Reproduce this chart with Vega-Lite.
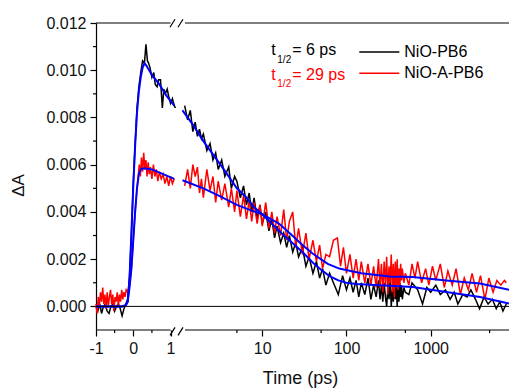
{
  "$schema": "https://vega.github.io/schema/vega-lite/v6.json",
  "autosize": {"type": "none"},
  "padding": {"left": 96, "top": 23, "right": 0, "bottom": 58},
  "width": 413,
  "height": 307,
  "config": {
    "view": {"stroke": null},
    "font": "Liberation Sans",
    "axis": {"domainColor": "#000", "tickColor": "#000", "labelColor": "#111", "titleColor": "#111", "labelFontSize": 16, "titleFontSize": 18, "titleFontWeight": "normal", "grid": false, "domainWidth": 1.2, "tickWidth": 1.2, "tickSize": 6, "labelFlush": false}
  },
  "datasets": {
    "one": [{}],
    "bl": [
      {"t": -1, "v": 0}, {"t": -0.95, "v": -0.0002}, {"t": -0.9, "v": 0.0001}, {"t": -0.85, "v": -0.0003}, {"t": -0.8, "v": 0}, {"t": -0.75, "v": 0.0001}, {"t": -0.7, "v": -0.0002}, {"t": -0.65, "v": -0.0003}, {"t": -0.6, "v": 0}, {"t": -0.55, "v": 0.0001}, {"t": -0.5, "v": -0.0002}, {"t": -0.45, "v": 0}, {"t": -0.4, "v": 0.0001}, {"t": -0.35, "v": -0.0001}, {"t": -0.3, "v": -0.0004}, {"t": -0.25, "v": -0.0001}, {"t": -0.2, "v": 0.0001}, {"t": -0.15, "v": 0.0003}, {"t": -0.1, "v": 0.0013}, {"t": -0.05, "v": 0.003}, {"t": 0, "v": 0.0052}, {"t": 0.05, "v": 0.0069}, {"t": 0.1, "v": 0.0084}, {"t": 0.15, "v": 0.0093}, {"t": 0.2, "v": 0.0099}, {"t": 0.25, "v": 0.0104}, {"t": 0.3, "v": 0.0103}, {"t": 0.34, "v": 0.0111}, {"t": 0.38, "v": 0.0104}, {"t": 0.41, "v": 0.0103}, {"t": 0.45, "v": 0.0101}, {"t": 0.5, "v": 0.0097}, {"t": 0.55, "v": 0.0099}, {"t": 0.59, "v": 0.0094}, {"t": 0.64, "v": 0.0093}, {"t": 0.68, "v": 0.0096}, {"t": 0.73, "v": 0.0096}, {"t": 0.78, "v": 0.0084}, {"t": 0.82, "v": 0.0092}, {"t": 0.86, "v": 0.009}, {"t": 0.91, "v": 0.0092}, {"t": 0.95, "v": 0.0089}, {"t": 1.0, "v": 0.0086}, {"t": 1.05, "v": 0.0088}, {"t": 1.1, "v": 0.0085}, {"t": 1.13, "v": 0.0084}
    ],
    "rl": [
      {"t": -1, "v": 0.0001}, {"t": -0.97, "v": -0.0003}, {"t": -0.94, "v": 0.0004}, {"t": -0.91, "v": 0}, {"t": -0.88, "v": 0.0006}, {"t": -0.85, "v": 0.0002}, {"t": -0.82, "v": 0.0008}, {"t": -0.79, "v": 0.0001}, {"t": -0.76, "v": 0.0005}, {"t": -0.73, "v": -0.0001}, {"t": -0.7, "v": 0.0006}, {"t": -0.67, "v": 0}, {"t": -0.64, "v": 0.0004}, {"t": -0.61, "v": 0.0007}, {"t": -0.58, "v": 0.0001}, {"t": -0.55, "v": 0.0005}, {"t": -0.52, "v": -0.0002}, {"t": -0.49, "v": 0.0004}, {"t": -0.46, "v": 0.0002}, {"t": -0.43, "v": 0.0006}, {"t": -0.4, "v": 0}, {"t": -0.37, "v": 0.0005}, {"t": -0.34, "v": 0.0002}, {"t": -0.31, "v": 0.0007}, {"t": -0.28, "v": 0.0003}, {"t": -0.25, "v": 0.0006}, {"t": -0.22, "v": 0.0004}, {"t": -0.19, "v": 0.0007}, {"t": -0.15, "v": 0.0006}, {"t": -0.1, "v": 0.0009}, {"t": -0.05, "v": 0.0016}, {"t": 0, "v": 0.0028}, {"t": 0.05, "v": 0.004}, {"t": 0.1, "v": 0.005}, {"t": 0.13, "v": 0.0055}, {"t": 0.16, "v": 0.006}, {"t": 0.19, "v": 0.0055}, {"t": 0.22, "v": 0.0063}, {"t": 0.25, "v": 0.0057}, {"t": 0.28, "v": 0.0065}, {"t": 0.31, "v": 0.0058}, {"t": 0.34, "v": 0.0062}, {"t": 0.37, "v": 0.0055}, {"t": 0.4, "v": 0.0061}, {"t": 0.43, "v": 0.0056}, {"t": 0.46, "v": 0.0059}, {"t": 0.5, "v": 0.0054}, {"t": 0.54, "v": 0.006}, {"t": 0.58, "v": 0.0055}, {"t": 0.62, "v": 0.0058}, {"t": 0.66, "v": 0.0053}, {"t": 0.7, "v": 0.0057}, {"t": 0.75, "v": 0.0054}, {"t": 0.8, "v": 0.0056}, {"t": 0.85, "v": 0.0052}, {"t": 0.9, "v": 0.0055}, {"t": 0.95, "v": 0.0051}, {"t": 1.0, "v": 0.0055}, {"t": 1.05, "v": 0.0052}, {"t": 1.1, "v": 0.0054}
    ],
    "fl": [
      {"s": "b", "t": -1, "v": 0}, {"s": "b", "t": -0.3, "v": 0}, {"s": "b", "t": -0.2, "v": 0.00005}, {"s": "b", "t": -0.15, "v": 0.0002}, {"s": "b", "t": -0.1, "v": 0.0012}, {"s": "b", "t": -0.05, "v": 0.0031}, {"s": "b", "t": 0, "v": 0.0051}, {"s": "b", "t": 0.05, "v": 0.0068}, {"s": "b", "t": 0.1, "v": 0.0082}, {"s": "b", "t": 0.15, "v": 0.0091}, {"s": "b", "t": 0.2, "v": 0.0097}, {"s": "b", "t": 0.25, "v": 0.0101}, {"s": "b", "t": 0.3, "v": 0.0103}, {"s": "b", "t": 0.35, "v": 0.0102}, {"s": "b", "t": 0.5, "v": 0.0098}, {"s": "b", "t": 0.7, "v": 0.0094}, {"s": "b", "t": 0.9, "v": 0.0089}, {"s": "b", "t": 1.1, "v": 0.0085},
      {"s": "r", "t": -1, "v": 0}, {"s": "r", "t": -0.3, "v": 0}, {"s": "r", "t": -0.2, "v": 0.00005}, {"s": "r", "t": -0.15, "v": 0.0002}, {"s": "r", "t": -0.1, "v": 0.0008}, {"s": "r", "t": -0.05, "v": 0.0016}, {"s": "r", "t": 0, "v": 0.0028}, {"s": "r", "t": 0.05, "v": 0.004}, {"s": "r", "t": 0.1, "v": 0.005}, {"s": "r", "t": 0.15, "v": 0.0056}, {"s": "r", "t": 0.2, "v": 0.0058}, {"s": "r", "t": 0.28, "v": 0.00585}, {"s": "r", "t": 0.5, "v": 0.0058}, {"s": "r", "t": 0.8, "v": 0.0056}, {"s": "r", "t": 1.1, "v": 0.0054}
    ],
    "br": [
      {"t": 1.2, "v": 0.0085}, {"t": 1.3, "v": 0.0079}, {"t": 1.4, "v": 0.0083}, {"t": 1.5, "v": 0.0074}, {"t": 1.6, "v": 0.0078}, {"t": 1.7, "v": 0.0072}, {"t": 1.8, "v": 0.0075}, {"t": 1.9, "v": 0.0071}, {"t": 2.0, "v": 0.0073}, {"t": 2.2, "v": 0.0066}, {"t": 2.4, "v": 0.0069}, {"t": 2.6, "v": 0.0062}, {"t": 2.8, "v": 0.0065}, {"t": 3.0, "v": 0.0058}, {"t": 3.3, "v": 0.0062}, {"t": 3.6, "v": 0.0055}, {"t": 4.0, "v": 0.0059}, {"t": 4.3, "v": 0.005}, {"t": 4.7, "v": 0.0055}, {"t": 5.0, "v": 0.0053}, {"t": 5.5, "v": 0.0046}, {"t": 6.0, "v": 0.0051}, {"t": 6.5, "v": 0.0043}, {"t": 7.0, "v": 0.0048}, {"t": 7.5, "v": 0.004}, {"t": 8.0, "v": 0.0046}, {"t": 8.7, "v": 0.0037}, {"t": 9.4, "v": 0.0043}, {"t": 10, "v": 0.0035}, {"t": 11, "v": 0.004}, {"t": 12, "v": 0.0032}, {"t": 13, "v": 0.0037}, {"t": 14, "v": 0.0029}, {"t": 15, "v": 0.0034}, {"t": 16.5, "v": 0.0027}, {"t": 18, "v": 0.0031}, {"t": 19.5, "v": 0.0025}, {"t": 21, "v": 0.003}, {"t": 23, "v": 0.0023}, {"t": 25, "v": 0.0027}, {"t": 27, "v": 0.0021}, {"t": 30, "v": 0.0025}, {"t": 33, "v": 0.0017}, {"t": 36, "v": 0.0021}, {"t": 40, "v": 0.0014}, {"t": 44, "v": 0.0019}, {"t": 48, "v": 0.0012}, {"t": 52, "v": 0.0016}, {"t": 57, "v": 0.0009}, {"t": 63, "v": 0.0014}, {"t": 70, "v": 0.001}, {"t": 80, "v": 0.0005}, {"t": 90, "v": 0.0013}, {"t": 100, "v": 0.0007}, {"t": 110, "v": 0.0012}, {"t": 120, "v": 0.0006}, {"t": 130, "v": 0.0011}, {"t": 140, "v": 0.0004}, {"t": 150, "v": 0.001}, {"t": 165, "v": 0.0005}, {"t": 180, "v": 0.0012}, {"t": 195, "v": 0.0003}, {"t": 210, "v": 0.0009}, {"t": 225, "v": 0.0004}, {"t": 240, "v": 0.0011}, {"t": 250, "v": 0.0003}, {"t": 260, "v": 0.0009}, {"t": 270, "v": 0.0002}, {"t": 280, "v": 0.001}, {"t": 290, "v": 0.0004}, {"t": 300, "v": 0}, {"t": 310, "v": 0.0008}, {"t": 320, "v": 0.0003}, {"t": 330, "v": 0.0011}, {"t": 340, "v": 0}, {"t": 350, "v": 0.0007}, {"t": 360, "v": 0.0002}, {"t": 370, "v": 0.001}, {"t": 380, "v": 0.0003}, {"t": 390, "v": 0.0009}, {"t": 400, "v": 0}, {"t": 410, "v": 0.0008}, {"t": 420, "v": 0.0002}, {"t": 430, "v": 0.001}, {"t": 440, "v": 0.0004}, {"t": 450, "v": 0.0009}, {"t": 460, "v": 0.0003}, {"t": 480, "v": 0.0008}, {"t": 500, "v": 0.0006}, {"t": 550, "v": 0.0005}, {"t": 600, "v": 0.001}, {"t": 700, "v": 0.0007}, {"t": 800, "v": 0.0001}, {"t": 900, "v": 0.0008}, {"t": 1000, "v": 0.0006}, {"t": 1150, "v": 0.0009}, {"t": 1300, "v": 0.0005}, {"t": 1500, "v": 0.0007}, {"t": 1700, "v": 0.0003}, {"t": 1900, "v": 0.0006}, {"t": 2100, "v": 0.0001}, {"t": 2400, "v": 0.0005}, {"t": 2700, "v": 0.0004}, {"t": 3000, "v": 0.0007}, {"t": 3400, "v": 0.0003}, {"t": 3800, "v": -0.0001}, {"t": 4300, "v": 0.0004}, {"t": 4800, "v": 0.0001}, {"t": 5400, "v": 0.0003}, {"t": 6000, "v": -0.0001}, {"t": 6600, "v": 0.0002}, {"t": 7200, "v": -0.0002}, {"t": 7900, "v": 0.0001}
    ],
    "rr": [
      {"t": 1.2, "v": 0.0051}, {"t": 1.3, "v": 0.0058}, {"t": 1.4, "v": 0.005}, {"t": 1.5, "v": 0.006}, {"t": 1.6, "v": 0.0055}, {"t": 1.7, "v": 0.0059}, {"t": 1.8, "v": 0.0048}, {"t": 1.9, "v": 0.0054}, {"t": 2.0, "v": 0.0046}, {"t": 2.2, "v": 0.0058}, {"t": 2.4, "v": 0.0049}, {"t": 2.6, "v": 0.0055}, {"t": 2.8, "v": 0.0044}, {"t": 3.0, "v": 0.0053}, {"t": 3.3, "v": 0.0045}, {"t": 3.6, "v": 0.0052}, {"t": 4.0, "v": 0.0042}, {"t": 4.3, "v": 0.005}, {"t": 4.7, "v": 0.004}, {"t": 5.0, "v": 0.0049}, {"t": 5.5, "v": 0.0038}, {"t": 6.0, "v": 0.0047}, {"t": 6.5, "v": 0.0037}, {"t": 7.0, "v": 0.0045}, {"t": 7.5, "v": 0.0036}, {"t": 8.0, "v": 0.0044}, {"t": 8.7, "v": 0.0035}, {"t": 9.4, "v": 0.0043}, {"t": 10, "v": 0.0034}, {"t": 11, "v": 0.0044}, {"t": 12, "v": 0.0033}, {"t": 13, "v": 0.004}, {"t": 14, "v": 0.0031}, {"t": 15, "v": 0.0038}, {"t": 16.5, "v": 0.003}, {"t": 18, "v": 0.0041}, {"t": 19.5, "v": 0.0028}, {"t": 21, "v": 0.0036}, {"t": 23, "v": 0.004}, {"t": 25, "v": 0.0025}, {"t": 27, "v": 0.0033}, {"t": 30, "v": 0.0022}, {"t": 33, "v": 0.0031}, {"t": 36, "v": 0.002}, {"t": 40, "v": 0.0028}, {"t": 44, "v": 0.0019}, {"t": 48, "v": 0.0026}, {"t": 52, "v": 0.0016}, {"t": 57, "v": 0.0022}, {"t": 63, "v": 0.0021}, {"t": 70, "v": 0.0028}, {"t": 78, "v": 0.0029}, {"t": 85, "v": 0.0017}, {"t": 92, "v": 0.0025}, {"t": 100, "v": 0.0014}, {"t": 110, "v": 0.0022}, {"t": 120, "v": 0.0012}, {"t": 130, "v": 0.002}, {"t": 140, "v": 0.0011}, {"t": 150, "v": 0.0019}, {"t": 165, "v": 0.001}, {"t": 180, "v": 0.0018}, {"t": 195, "v": 0.0009}, {"t": 210, "v": 0.0017}, {"t": 225, "v": 0.0008}, {"t": 240, "v": 0.002}, {"t": 250, "v": 0.0008}, {"t": 260, "v": 0.0018}, {"t": 270, "v": 0.0006}, {"t": 280, "v": 0.0019}, {"t": 290, "v": 0.0009}, {"t": 300, "v": 0.0021}, {"t": 310, "v": 0.0005}, {"t": 320, "v": 0.0017}, {"t": 330, "v": 0.001}, {"t": 340, "v": 0.0022}, {"t": 350, "v": 0.0006}, {"t": 360, "v": 0.0018}, {"t": 370, "v": 0.0004}, {"t": 380, "v": 0.0019}, {"t": 390, "v": 0.0008}, {"t": 400, "v": 0.002}, {"t": 410, "v": 0.0007}, {"t": 420, "v": 0.0016}, {"t": 430, "v": 0.0009}, {"t": 440, "v": 0.0018}, {"t": 450, "v": 0.0011}, {"t": 460, "v": 0.0016}, {"t": 480, "v": 0.001}, {"t": 500, "v": 0.0014}, {"t": 550, "v": 0.0009}, {"t": 600, "v": 0.0018}, {"t": 650, "v": 0.0012}, {"t": 700, "v": 0.0019}, {"t": 780, "v": 0.001}, {"t": 870, "v": 0.0016}, {"t": 950, "v": 0.0009}, {"t": 1050, "v": 0.0017}, {"t": 1150, "v": 0.0011}, {"t": 1300, "v": 0.0018}, {"t": 1450, "v": 0.0008}, {"t": 1600, "v": 0.0015}, {"t": 1800, "v": 0.0009}, {"t": 2000, "v": 0.0016}, {"t": 2250, "v": 0.0005}, {"t": 2500, "v": 0.0012}, {"t": 2800, "v": 0.0007}, {"t": 3100, "v": 0.0014}, {"t": 3500, "v": 0.0006}, {"t": 3900, "v": 0.0013}, {"t": 4400, "v": 0.0003}, {"t": 4900, "v": 0.0012}, {"t": 5500, "v": 0.0006}, {"t": 6100, "v": 0.0011}, {"t": 6800, "v": 0.0009}, {"t": 7500, "v": 0.0011}, {"t": 7900, "v": 0.001}
    ],
    "fr": [
      {"s": "b", "t": 1.13, "v": 0.0083}, {"s": "b", "t": 1.5, "v": 0.0077}, {"s": "b", "t": 2, "v": 0.007}, {"s": "b", "t": 2.56, "v": 0.00647}, {"s": "b", "t": 3.5, "v": 0.0058}, {"s": "b", "t": 5, "v": 0.005}, {"s": "b", "t": 6.4, "v": 0.00463}, {"s": "b", "t": 8, "v": 0.0042}, {"s": "b", "t": 10, "v": 0.0039}, {"s": "b", "t": 13, "v": 0.0035}, {"s": "b", "t": 17, "v": 0.0031}, {"s": "b", "t": 21, "v": 0.0028}, {"s": "b", "t": 30, "v": 0.0023}, {"s": "b", "t": 40, "v": 0.00185}, {"s": "b", "t": 50, "v": 0.00155}, {"s": "b", "t": 63, "v": 0.00128}, {"s": "b", "t": 80, "v": 0.0011}, {"s": "b", "t": 100, "v": 0.001}, {"s": "b", "t": 130, "v": 0.00095}, {"s": "b", "t": 245, "v": 0.00089}, {"s": "b", "t": 610, "v": 0.00082}, {"s": "b", "t": 1530, "v": 0.00061}, {"s": "b", "t": 3850, "v": 0.0004}, {"s": "b", "t": 8500, "v": 0.00012},
      {"s": "r", "t": 1.13, "v": 0.00534}, {"s": "r", "t": 2, "v": 0.005}, {"s": "r", "t": 3, "v": 0.0047}, {"s": "r", "t": 5, "v": 0.0043}, {"s": "r", "t": 7, "v": 0.0041}, {"s": "r", "t": 10, "v": 0.0039}, {"s": "r", "t": 15.9, "v": 0.0035}, {"s": "r", "t": 22.7, "v": 0.003}, {"s": "r", "t": 30, "v": 0.0026}, {"s": "r", "t": 39.6, "v": 0.00224}, {"s": "r", "t": 60, "v": 0.0018}, {"s": "r", "t": 82, "v": 0.0016}, {"s": "r", "t": 150, "v": 0.0014}, {"s": "r", "t": 324, "v": 0.00127}, {"s": "r", "t": 610, "v": 0.00124}, {"s": "r", "t": 1530, "v": 0.0011}, {"s": "r", "t": 3850, "v": 0.00097}, {"s": "r", "t": 8500, "v": 0.0007}
    ]
  },
  "resolve": {"scale": {"x": "independent"}, "axis": {"x": "independent"}},
  "layer": [
    {
      "layer": [
        {
          "data": {"name": "bl"},
          "mark": {"type": "line", "color": "#000", "strokeWidth": 1.5},
          "encoding": {
            "x": {"field": "t", "type": "quantitative", "scale": {"domain": [-1, 1.2], "range": [0, 82], "nice": false, "zero": false},
              "axis": {"orient": "bottom", "values": [-1, 0, 1], "domain": false, "labelExpr": "'' + datum.value", "labelPadding": 4, "labelFlush": false, "title": null}},
            "y": {"field": "v", "type": "quantitative", "scale": {"domain": [-0.001, 0.012], "nice": false, "zero": false},
              "axis": {"orient": "left", "values": [0, 0.002, 0.004, 0.006, 0.008, 0.01, 0.012], "format": ".3f", "labelPadding": 4, "title": "ΔA", "titleFontSize": 17, "titleX": -78, "titleY": 162, "titleBaseline": "middle", "titleAlign": "center"}}
          }
        },
        {
          "data": {"name": "rl"},
          "mark": {"type": "line", "color": "#ff0000", "strokeWidth": 1.5},
          "encoding": {"x": {"field": "t", "type": "quantitative"}, "y": {"field": "v", "type": "quantitative"}}
        },
        {
          "data": {"name": "fl"},
          "mark": {"type": "line", "color": "#0000ff", "strokeWidth": 2},
          "encoding": {"x": {"field": "t", "type": "quantitative"}, "y": {"field": "v", "type": "quantitative"}, "detail": {"field": "s"}}
        },
        {
          "data": {"values": [{"m": 0.001}, {"m": 0.003}, {"m": 0.005}, {"m": 0.007}, {"m": 0.009}, {"m": 0.011}]},
          "mark": {"type": "rule", "color": "#000", "strokeWidth": 1.2, "clip": false},
          "encoding": {"y": {"field": "m", "type": "quantitative"}, "x": {"datum": -1.08}, "x2": {"datum": -1}}
        },
        {
          "data": {"values": [{"m": -0.5}, {"m": 0.5}]},
          "mark": {"type": "rule", "color": "#000", "strokeWidth": 1.2, "clip": false},
          "encoding": {"x": {"field": "m", "type": "quantitative"}, "y": {"datum": -0.001}, "y2": {"datum": -0.00113}}
        },
        {"data": {"name": "one"}, "mark": {"type": "rule", "color": "#000", "strokeWidth": 1.2}, "encoding": {"x": {"datum": -1}, "x2": {"datum": 1.0}, "y": {"datum": -0.001}}},
        {"data": {"name": "one"}, "mark": {"type": "rule", "color": "#000", "strokeWidth": 1.2}, "encoding": {"x": {"datum": -1}, "x2": {"datum": 1.0}, "y": {"datum": 0.012}}},
        {"data": {"name": "one"}, "mark": {"type": "rule", "color": "#000", "strokeWidth": 1}, "encoding": {"x": {"datum": -1}, "x2": {"datum": 1.2}, "y": {"datum": 0}}},
        {"data": {"name": "one"}, "mark": {"type": "rule", "color": "#000", "strokeWidth": 1.2, "clip": false}, "encoding": {"x": {"datum": 0.985}, "x2": {"datum": 1.12}, "y": {"datum": -0.00123}, "y2": {"datum": -0.00089}}},
        {"data": {"name": "one"}, "mark": {"type": "rule", "color": "#000", "strokeWidth": 1.2, "clip": false}, "encoding": {"x": {"datum": 1.2}, "x2": {"datum": 1.334}, "y": {"datum": -0.00123}, "y2": {"datum": -0.00089}}},
        {"data": {"name": "one"}, "mark": {"type": "rule", "color": "#000", "strokeWidth": 1.2, "clip": false}, "encoding": {"x": {"datum": 0.985}, "x2": {"datum": 1.12}, "y": {"datum": 0.01182}, "y2": {"datum": 0.01216}}},
        {"data": {"name": "one"}, "mark": {"type": "rule", "color": "#000", "strokeWidth": 1.2, "clip": false}, "encoding": {"x": {"datum": 1.2}, "x2": {"datum": 1.334}, "y": {"datum": 0.01182}, "y2": {"datum": 0.01216}}}
      ]
    },
    {
      "layer": [
        {
          "data": {"name": "br"},
          "mark": {"type": "line", "color": "#000", "strokeWidth": 1.5},
          "encoding": {
            "x": {"field": "t", "type": "quantitative", "scale": {"type": "log", "domain": [1, 8500], "range": [82, 413], "nice": false},
              "axis": {"orient": "bottom", "values": [10, 100, 1000], "domain": false, "labelExpr": "'' + datum.value", "labelPadding": 4, "labelFlush": false, "title": "Time (ps)", "titleX": 204, "titleY": 48, "titleBaseline": "middle"}},
            "y": {"field": "v", "type": "quantitative"}
          }
        },
        {
          "data": {"name": "rr"},
          "mark": {"type": "line", "color": "#ff0000", "strokeWidth": 1.5},
          "encoding": {"x": {"field": "t", "type": "quantitative"}, "y": {"field": "v", "type": "quantitative"}}
        },
        {
          "data": {"name": "fr"},
          "mark": {"type": "line", "color": "#0000ff", "strokeWidth": 2},
          "encoding": {"x": {"field": "t", "type": "quantitative"}, "y": {"field": "v", "type": "quantitative"}, "detail": {"field": "s"}}
        },
        {
          "data": {"values": [{"m": 5}, {"m": 50}, {"m": 500}, {"m": 5000}]},
          "mark": {"type": "rule", "color": "#000", "strokeWidth": 1.2, "clip": false},
          "encoding": {"x": {"field": "m", "type": "quantitative"}, "y": {"datum": -0.001}, "y2": {"datum": -0.00113}}
        },
        {"data": {"name": "one"}, "mark": {"type": "rule", "color": "#000", "strokeWidth": 1}, "encoding": {"x": {"datum": 1}, "x2": {"datum": 8500}, "y": {"datum": 0}}},
        {"data": {"name": "one"}, "mark": {"type": "rule", "color": "#000", "strokeWidth": 1.2}, "encoding": {"x": {"datum": 1.21}, "x2": {"datum": 8500}, "y": {"datum": -0.001}}},
        {"data": {"name": "one"}, "mark": {"type": "rule", "color": "#000", "strokeWidth": 1.2}, "encoding": {"x": {"datum": 1.21}, "x2": {"datum": 8500}, "y": {"datum": 0.012}}},
        {"data": {"name": "one"}, "mark": {"type": "text", "text": "t", "align": "left", "baseline": "alphabetic", "fontSize": 16, "color": "#000"}, "encoding": {"x": {"datum": 12.8}, "y": {"datum": 0.01064}}},
        {"data": {"name": "one"}, "mark": {"type": "text", "text": "1/2", "align": "left", "baseline": "alphabetic", "fontSize": 10, "color": "#000"}, "encoding": {"x": {"datum": 15.1}, "y": {"datum": 0.0103}}},
        {"data": {"name": "one"}, "mark": {"type": "text", "text": "= 6 ps", "align": "left", "baseline": "alphabetic", "fontSize": 16, "color": "#000"}, "encoding": {"x": {"datum": 22.7}, "y": {"datum": 0.01064}}},
        {"data": {"name": "one"}, "mark": {"type": "text", "text": "t", "align": "left", "baseline": "alphabetic", "fontSize": 16, "color": "#ff0000"}, "encoding": {"x": {"datum": 12.8}, "y": {"datum": 0.00958}}},
        {"data": {"name": "one"}, "mark": {"type": "text", "text": "1/2", "align": "left", "baseline": "alphabetic", "fontSize": 10, "color": "#ff0000"}, "encoding": {"x": {"datum": 15.1}, "y": {"datum": 0.00928}}},
        {"data": {"name": "one"}, "mark": {"type": "text", "text": "= 29 ps", "align": "left", "baseline": "alphabetic", "fontSize": 16, "color": "#ff0000"}, "encoding": {"x": {"datum": 22.7}, "y": {"datum": 0.00958}}},
        {"data": {"name": "one"}, "mark": {"type": "rule", "color": "#000", "strokeWidth": 1.5}, "encoding": {"x": {"datum": 142}, "x2": {"datum": 424}, "y": {"datum": 0.01077}}},
        {"data": {"name": "one"}, "mark": {"type": "rule", "color": "#ff0000", "strokeWidth": 1.5}, "encoding": {"x": {"datum": 142}, "x2": {"datum": 424}, "y": {"datum": 0.00987}}},
        {"data": {"name": "one"}, "mark": {"type": "text", "text": "NiO-PB6", "align": "left", "baseline": "middle", "fontSize": 16, "color": "#000"}, "encoding": {"x": {"datum": 486}, "y": {"datum": 0.01077}}},
        {"data": {"name": "one"}, "mark": {"type": "text", "text": "NiO-A-PB6", "align": "left", "baseline": "middle", "fontSize": 16, "color": "#000"}, "encoding": {"x": {"datum": 486}, "y": {"datum": 0.00987}}}
      ]
    }
  ]
}
